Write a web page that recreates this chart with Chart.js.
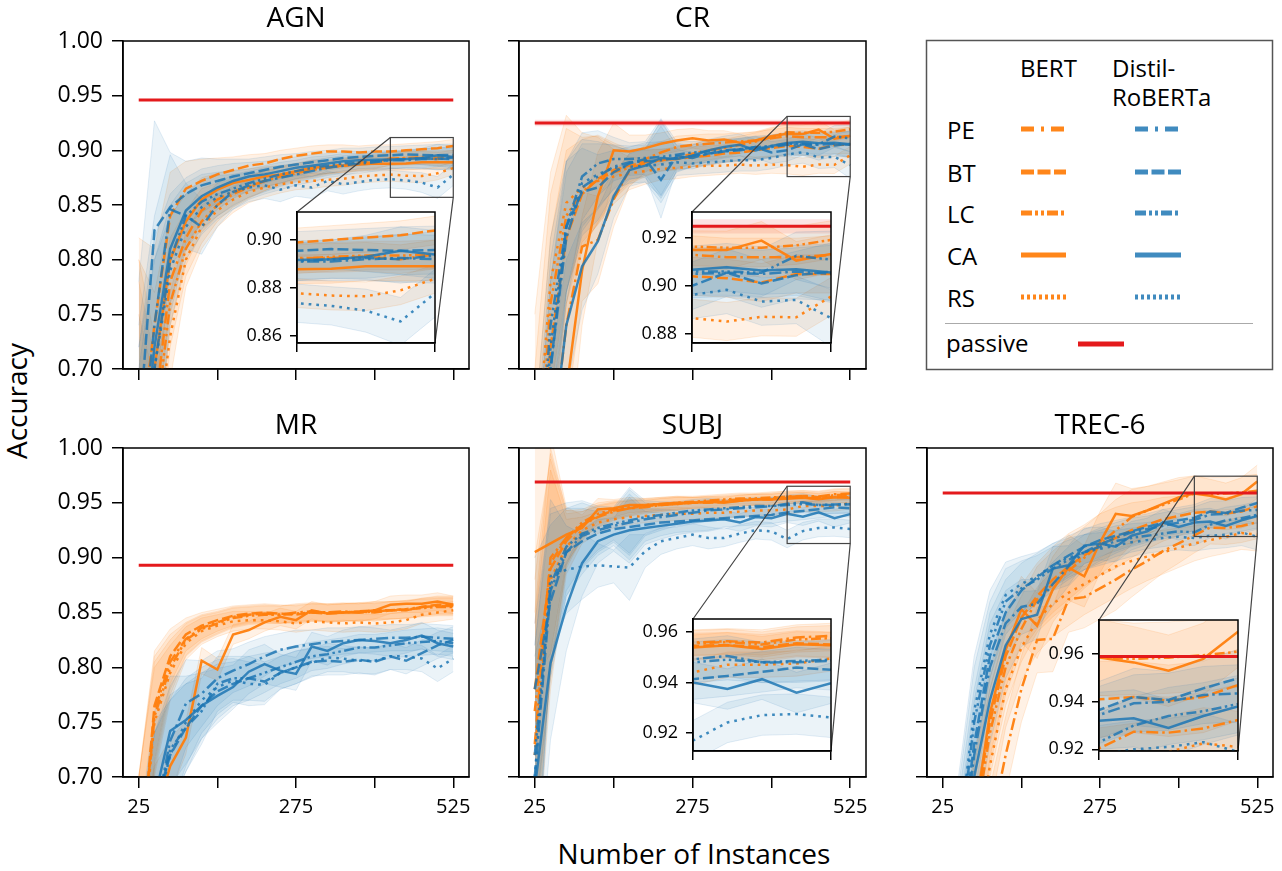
<!DOCTYPE html>
<html>
<head>
<meta charset="utf-8">
<script src="https://cdn.jsdelivr.net/npm/chart.js@4.4.1/dist/chart.umd.min.js"></script>
<style>
  body { margin: 0; background: #fff; }
  #fig { position: relative; width: 1282px; height: 871px; overflow: hidden; font-family: 'Open Sans', sans-serif; }
  .pane { position: absolute; }
  .lbl { position: absolute; font-size: 28px; line-height: 1; white-space: nowrap; color: #000; }
</style>
</head>
<body>
<div id="fig"></div>
<script>
// ---- data: accuracy vs. number of labelled instances ----
const instances = [25, 50, 75, 100, 125, 150, 175, 200, 225, 250, 275, 300, 325, 350, 375, 400, 425, 450, 475, 500, 525];
const strategies = ['PE', 'BT', 'LC', 'CA', 'RS'];
const panelTitles = ['AGN', 'CR', 'MR', 'SUBJ', 'TREC-6'];
const passive = [0.946, 0.925, 0.893, 0.969, 0.959];
const passiveSd = [0, 0.003, 0, 0, 0];

const agnBert = {
  PE: [0.60, 0.66, 0.78, 0.82, 0.845, 0.855, 0.862, 0.867, 0.872, 0.876, 0.879, 0.882, 0.884, 0.886, 0.888, 0.889, 0.8925, 0.8925, 0.893, 0.892, 0.894],
  BT: [0.62, 0.74, 0.84, 0.865, 0.872, 0.878, 0.882, 0.886, 0.888, 0.892, 0.895, 0.897, 0.899, 0.899, 0.898, 0.899, 0.899, 0.900, 0.901, 0.902, 0.904],
  LC: [0.58, 0.64, 0.76, 0.81, 0.835, 0.85, 0.86, 0.866, 0.872, 0.877, 0.88, 0.883, 0.885, 0.887, 0.889, 0.89, 0.892, 0.893, 0.8935, 0.8935, 0.894],
  CA: [0.60, 0.70, 0.80, 0.835, 0.855, 0.864, 0.87, 0.873, 0.876, 0.878, 0.881, 0.884, 0.885, 0.886, 0.887, 0.888, 0.8878, 0.888, 0.889, 0.889, 0.889],
  RS: [0.55, 0.62, 0.73, 0.80, 0.83, 0.845, 0.855, 0.862, 0.866, 0.869, 0.871, 0.872, 0.873, 0.874, 0.876, 0.877, 0.8778, 0.8768, 0.8765, 0.879, 0.8838]
};
const agnDistil = {
  PE: [0.60, 0.74, 0.846, 0.84, 0.83, 0.85, 0.862, 0.868, 0.872, 0.875, 0.878, 0.881, 0.884, 0.886, 0.888, 0.889, 0.891, 0.891, 0.892, 0.8925, 0.892],
  BT: [0.64, 0.827, 0.848, 0.86, 0.868, 0.872, 0.876, 0.879, 0.882, 0.885, 0.887, 0.889, 0.891, 0.893, 0.894, 0.895, 0.8955, 0.8962, 0.8958, 0.8955, 0.8958],
  LC: [0.58, 0.70, 0.80, 0.84, 0.853, 0.86, 0.865, 0.87, 0.874, 0.878, 0.881, 0.884, 0.886, 0.888, 0.889, 0.89, 0.891, 0.892, 0.8925, 0.892, 0.8935],
  CA: [0.58, 0.72, 0.81, 0.845, 0.858, 0.866, 0.872, 0.876, 0.878, 0.881, 0.884, 0.886, 0.888, 0.89, 0.891, 0.8915, 0.8917, 0.892, 0.893, 0.8955, 0.894],
  RS: [0.56, 0.70, 0.79, 0.83, 0.848, 0.857, 0.862, 0.866, 0.868, 0.864, 0.868, 0.866, 0.872, 0.869, 0.871, 0.873, 0.8736, 0.8725, 0.8705, 0.866, 0.8778]
};
const agnBertSd = [0.2, 0.07, 0.04, 0.025, 0.02, 0.015, 0.012, 0.01, 0.009, 0.008, 0.007, 0.007, 0.006, 0.006, 0.006, 0.006, 0.006, 0.006, 0.006, 0.006, 0.006];
const agnDistilSd = [0.14, 0.1, 0.05, 0.03, 0.025, 0.02, 0.016, 0.013, 0.012, 0.011, 0.01, 0.01, 0.009, 0.009, 0.008, 0.008, 0.008, 0.008, 0.009, 0.01, 0.01];

const crBert = {
  PE: [0.50, 0.62, 0.74, 0.812, 0.818, 0.855, 0.882, 0.892, 0.898, 0.903, 0.905, 0.906, 0.907, 0.908, 0.909, 0.911, 0.913, 0.912, 0.912, 0.912, 0.913],
  BT: [0.50, 0.72, 0.82, 0.86, 0.874, 0.882, 0.886, 0.889, 0.891, 0.892, 0.894, 0.895, 0.897, 0.898, 0.900, 0.902, 0.904, 0.9032, 0.9014, 0.905, 0.905],
  LC: [0.55, 0.76, 0.84, 0.862, 0.873, 0.88, 0.884, 0.888, 0.891, 0.893, 0.897, 0.900, 0.902, 0.905, 0.908, 0.912, 0.9165, 0.916, 0.916, 0.917, 0.9193],
  CA: [0.45, 0.55, 0.68, 0.79, 0.858, 0.900, 0.899, 0.902, 0.906, 0.909, 0.911, 0.909, 0.910, 0.907, 0.909, 0.913, 0.9151, 0.915, 0.919, 0.9106, 0.9134],
  RS: [0.60, 0.78, 0.852, 0.866, 0.872, 0.876, 0.879, 0.881, 0.883, 0.884, 0.885, 0.886, 0.886, 0.887, 0.886, 0.887, 0.8864, 0.885, 0.887, 0.8868, 0.8955]
};
const crDistil = {
  PE: [0.50, 0.70, 0.82, 0.866, 0.876, 0.885, 0.889, 0.890, 0.891, 0.893, 0.895, 0.897, 0.899, 0.900, 0.902, 0.903, 0.905, 0.9055, 0.905, 0.906, 0.905],
  BT: [0.50, 0.70, 0.83, 0.862, 0.866, 0.880, 0.888, 0.892, 0.873, 0.895, 0.893, 0.897, 0.899, 0.901, 0.903, 0.898, 0.900, 0.9055, 0.901, 0.9045, 0.906],
  LC: [0.55, 0.74, 0.83, 0.876, 0.888, 0.892, 0.892, 0.893, 0.894, 0.896, 0.898, 0.899, 0.900, 0.901, 0.903, 0.904, 0.906, 0.906, 0.9055, 0.9126, 0.911],
  CA: [0.50, 0.62, 0.74, 0.794, 0.817, 0.858, 0.882, 0.886, 0.893, 0.892, 0.895, 0.900, 0.903, 0.905, 0.900, 0.904, 0.9067, 0.9078, 0.9064, 0.907, 0.9056],
  RS: [0.52, 0.72, 0.83, 0.870, 0.878, 0.884, 0.885, 0.886, 0.887, 0.889, 0.888, 0.889, 0.890, 0.891, 0.891, 0.893, 0.8962, 0.8983, 0.8934, 0.8941, 0.8864]
};
const crBertSd = [0.15, 0.1, 0.08, 0.05, 0.04, 0.025, 0.015, 0.012, 0.01, 0.01, 0.009, 0.009, 0.008, 0.008, 0.008, 0.008, 0.008, 0.008, 0.008, 0.008, 0.008];
const crDistilSd = [0.1, 0.08, 0.06, 0.04, 0.03, 0.02, 0.015, 0.015, 0.035, 0.012, 0.01, 0.01, 0.01, 0.01, 0.01, 0.01, 0.01, 0.01, 0.01, 0.01, 0.012];

const mrBert = {
  PE: [0.60, 0.76, 0.805, 0.826, 0.836, 0.841, 0.846, 0.848, 0.849, 0.848, 0.850, 0.851, 0.850, 0.851, 0.850, 0.851, 0.852, 0.853, 0.855, 0.856, 0.856],
  BT: [0.60, 0.765, 0.81, 0.83, 0.838, 0.843, 0.847, 0.849, 0.850, 0.849, 0.848, 0.850, 0.849, 0.850, 0.851, 0.850, 0.852, 0.852, 0.855, 0.857, 0.857],
  LC: [0.60, 0.755, 0.80, 0.825, 0.835, 0.840, 0.845, 0.847, 0.848, 0.848, 0.849, 0.850, 0.850, 0.850, 0.851, 0.852, 0.852, 0.853, 0.854, 0.855, 0.855],
  CA: [0.55, 0.66, 0.71, 0.736, 0.806, 0.798, 0.830, 0.834, 0.841, 0.846, 0.843, 0.852, 0.849, 0.850, 0.850, 0.852, 0.857, 0.858, 0.858, 0.860, 0.857],
  RS: [0.60, 0.75, 0.795, 0.822, 0.833, 0.838, 0.842, 0.843, 0.843, 0.842, 0.840, 0.842, 0.841, 0.840, 0.841, 0.840, 0.841, 0.843, 0.848, 0.850, 0.852]
};
const mrDistil = {
  PE: [0.55, 0.66, 0.733, 0.767, 0.776, 0.790, 0.797, 0.803, 0.810, 0.816, 0.819, 0.821, 0.823, 0.824, 0.825, 0.826, 0.827, 0.827, 0.828, 0.827, 0.826],
  BT: [0.55, 0.67, 0.72, 0.745, 0.765, 0.778, 0.785, 0.79, 0.787, 0.795, 0.80, 0.805, 0.806, 0.805, 0.807, 0.805, 0.810, 0.806, 0.813, 0.820, 0.825],
  LC: [0.55, 0.66, 0.725, 0.745, 0.76, 0.785, 0.79, 0.79, 0.795, 0.80, 0.805, 0.81, 0.812, 0.815, 0.818, 0.818, 0.820, 0.822, 0.823, 0.824, 0.822],
  CA: [0.55, 0.68, 0.742, 0.752, 0.765, 0.774, 0.782, 0.796, 0.803, 0.797, 0.794, 0.819, 0.815, 0.822, 0.825, 0.824, 0.822, 0.825, 0.829, 0.822, 0.819],
  RS: [0.55, 0.66, 0.72, 0.75, 0.77, 0.782, 0.788, 0.785, 0.784, 0.795, 0.80, 0.804, 0.809, 0.808, 0.806, 0.806, 0.81, 0.81, 0.808, 0.799, 0.808]
};
const mrBertSd = [0.1, 0.05, 0.025, 0.015, 0.012, 0.01, 0.009, 0.008, 0.008, 0.008, 0.008, 0.008, 0.008, 0.008, 0.008, 0.008, 0.008, 0.008, 0.008, 0.008, 0.008];
const mrDistilSd = [0.1, 0.08, 0.05, 0.04, 0.03, 0.025, 0.02, 0.02, 0.018, 0.015, 0.015, 0.013, 0.013, 0.012, 0.012, 0.012, 0.012, 0.012, 0.012, 0.012, 0.012];

const subjBert = {
  PE: [0.73, 0.90, 0.918, 0.93, 0.937, 0.942, 0.945, 0.946, 0.948, 0.949, 0.950, 0.951, 0.952, 0.953, 0.953, 0.954, 0.9558, 0.9563, 0.9558, 0.9578, 0.9584],
  BT: [0.78, 0.89, 0.915, 0.93, 0.938, 0.943, 0.945, 0.947, 0.948, 0.949, 0.950, 0.950, 0.951, 0.952, 0.953, 0.953, 0.9545, 0.9548, 0.954, 0.9555, 0.955],
  LC: [0.76, 0.895, 0.918, 0.932, 0.94, 0.944, 0.946, 0.948, 0.949, 0.950, 0.951, 0.952, 0.953, 0.954, 0.954, 0.955, 0.9555, 0.956, 0.955, 0.957, 0.9575],
  CA: [0.905, 0.913, 0.921, 0.927, 0.944, 0.945, 0.948, 0.948, 0.949, 0.950, 0.950, 0.951, 0.950, 0.952, 0.953, 0.953, 0.9538, 0.9547, 0.9532, 0.9551, 0.9547],
  RS: [0.72, 0.88, 0.91, 0.925, 0.932, 0.935, 0.937, 0.938, 0.939, 0.940, 0.940, 0.941, 0.941, 0.942, 0.943, 0.943, 0.944, 0.947, 0.947, 0.9475, 0.9495]
};
const subjDistil = {
  PE: [0.70, 0.87, 0.905, 0.92, 0.925, 0.929, 0.932, 0.935, 0.937, 0.939, 0.941, 0.943, 0.944, 0.945, 0.946, 0.947, 0.9492, 0.9505, 0.9479, 0.948, 0.9486],
  BT: [0.78, 0.86, 0.905, 0.915, 0.922, 0.926, 0.928, 0.930, 0.932, 0.933, 0.934, 0.935, 0.936, 0.937, 0.938, 0.939, 0.9413, 0.9426, 0.9442, 0.9459, 0.945],
  LC: [0.72, 0.875, 0.91, 0.922, 0.927, 0.931, 0.934, 0.937, 0.939, 0.941, 0.943, 0.944, 0.945, 0.946, 0.947, 0.947, 0.948, 0.949, 0.948, 0.9485, 0.949],
  CA: [0.69, 0.804, 0.855, 0.895, 0.915, 0.921, 0.925, 0.927, 0.929, 0.931, 0.933, 0.934, 0.935, 0.932, 0.937, 0.936, 0.940, 0.9374, 0.9413, 0.936, 0.9397],
  RS: [0.70, 0.883, 0.889, 0.892, 0.893, 0.892, 0.891, 0.906, 0.915, 0.918, 0.921, 0.918, 0.918, 0.922, 0.925, 0.924, 0.917, 0.9242, 0.9271, 0.9275, 0.9262]
};
const subjBertSd = [0.12, 0.1, 0.025, 0.012, 0.01, 0.008, 0.007, 0.006, 0.006, 0.006, 0.005, 0.005, 0.005, 0.005, 0.005, 0.005, 0.005, 0.005, 0.005, 0.005, 0.005];
const subjDistilSd = [0.12, 0.07, 0.04, 0.03, 0.02, 0.015, 0.03, 0.015, 0.012, 0.01, 0.01, 0.01, 0.008, 0.008, 0.008, 0.008, 0.008, 0.008, 0.008, 0.008, 0.008];

const trecBert = {
  PE: [0.40, 0.50, 0.58, 0.65, 0.72, 0.78, 0.825, 0.826, 0.862, 0.864, 0.872, 0.880, 0.889, 0.897, 0.906, 0.913, 0.9204, 0.9274, 0.927, 0.9288, 0.9323],
  BT: [0.40, 0.55, 0.66, 0.75, 0.81, 0.845, 0.865, 0.88, 0.892, 0.902, 0.912, 0.918, 0.925, 0.930, 0.935, 0.938, 0.941, 0.942, 0.9404, 0.942, 0.947],
  LC: [0.40, 0.55, 0.65, 0.74, 0.80, 0.835, 0.862, 0.876, 0.888, 0.900, 0.912, 0.925, 0.937, 0.943, 0.948, 0.953, 0.9585, 0.958, 0.9585, 0.9595, 0.961],
  CA: [0.40, 0.55, 0.66, 0.758, 0.816, 0.853, 0.838, 0.871, 0.891, 0.883, 0.914, 0.94, 0.938, 0.943, 0.949, 0.955, 0.9586, 0.9565, 0.953, 0.958, 0.9694],
  RS: [0.40, 0.52, 0.62, 0.71, 0.78, 0.818, 0.843, 0.858, 0.868, 0.876, 0.884, 0.892, 0.897, 0.901, 0.905, 0.909, 0.913, 0.916, 0.919, 0.9225, 0.921]
};
const trecDistil = {
  PE: [0.45, 0.60, 0.72, 0.80, 0.84, 0.855, 0.858, 0.876, 0.892, 0.905, 0.912, 0.918, 0.923, 0.926, 0.929, 0.932, 0.9344, 0.9393, 0.94, 0.9428, 0.9435],
  BT: [0.45, 0.62, 0.73, 0.81, 0.85, 0.87, 0.882, 0.893, 0.902, 0.91, 0.916, 0.92, 0.924, 0.928, 0.932, 0.934, 0.9365, 0.942, 0.9407, 0.9456, 0.9498],
  LC: [0.47, 0.63, 0.75, 0.82, 0.86, 0.872, 0.88, 0.89, 0.898, 0.905, 0.91, 0.915, 0.918, 0.92, 0.922, 0.924, 0.923, 0.93, 0.934, 0.936, 0.939],
  CA: [0.45, 0.60, 0.70, 0.77, 0.82, 0.844, 0.848, 0.89, 0.893, 0.911, 0.913, 0.91, 0.92, 0.924, 0.932, 0.928, 0.932, 0.933, 0.929, 0.934, 0.938],
  RS: [0.47, 0.64, 0.76, 0.83, 0.866, 0.876, 0.883, 0.893, 0.9, 0.905, 0.908, 0.911, 0.914, 0.916, 0.918, 0.919, 0.918, 0.920, 0.921, 0.923, 0.919]
};
const trecBertSd = [0.1, 0.08, 0.06, 0.04, 0.035, 0.03, 0.03, 0.03, 0.03, 0.028, 0.028, 0.028, 0.025, 0.022, 0.02, 0.018, 0.016, 0.015, 0.015, 0.015, 0.015];
const trecDistilSd = [0.08, 0.06, 0.05, 0.04, 0.03, 0.025, 0.022, 0.02, 0.018, 0.016, 0.015, 0.014, 0.013, 0.012, 0.012, 0.012, 0.012, 0.012, 0.012, 0.012, 0.012];

// axis ticks
const xTicks = [25, 150, 275, 400, 525];
const xTickLabels = [25, 275, 525];
const yTicks = [0.70, 0.75, 0.80, 0.85, 0.90, 0.95, 1.00];
const insetX = [425, 525];
const insetLimits = [[0.857, 0.9117], [0.876, 0.931], null, [0.9129, 0.9651], [0.9193, 0.9743]];
const insetTicks = [[0.86, 0.88, 0.90], [0.88, 0.90, 0.92], null, [0.92, 0.94, 0.96], [0.92, 0.94, 0.96]];

// ---- styling / layout ----
const bertColor = 'rgba(255,127,14,0.95)';
const distilColor = 'rgba(31,119,180,0.85)';
const bertFill = 'rgba(255,127,14,0.11)';
const distilFill = 'rgba(31,119,180,0.09)';
const bertEdge = 'rgba(255,127,14,0.14)';
const distilEdge = 'rgba(31,119,180,0.12)';
const passiveColor = '#e41a1c';
const dashes = { PE: [12, 4, 2.5, 4], BT: [11, 4], LC: [10, 3.5, 2.5, 3.5, 2.5, 3.5], CA: [], RS: [2.7, 5] };
const legendDashes = { PE: [13, 7, 3, 7], BT: [13, 3.5], LC: [11, 3, 3, 3, 3, 3], CA: [], RS: [3, 3] };

const panels = [
  { bert: agnBert, distil: agnDistil, bertSd: agnBertSd, distilSd: agnDistilSd },
  { bert: crBert, distil: crDistil, bertSd: crBertSd, distilSd: crDistilSd },
  { bert: mrBert, distil: mrDistil, bertSd: mrBertSd, distilSd: mrDistilSd },
  { bert: subjBert, distil: subjDistil, bertSd: subjBertSd, distilSd: subjDistilSd },
  { bert: trecBert, distil: trecDistil, bertSd: trecBertSd, distilSd: trecDistilSd }
];
const boxes = [
  { left: 123, top: 41, w: 346, h: 328, showX: false, showY: true, inset: { left: 297, top: 212, w: 138, h: 131 } },
  { left: 519, top: 41, w: 347, h: 328, showX: false, showY: false, inset: { left: 692, top: 212, w: 139, h: 131 } },
  { left: 123, top: 448, w: 346, h: 329, showX: true, showY: true, inset: null },
  { left: 519, top: 448, w: 347, h: 329, showX: true, showY: false, inset: { left: 693, top: 619, w: 138, h: 132 } },
  { left: 927, top: 448, w: 346, h: 329, showX: true, showY: false, inset: { left: 1099, top: 620, w: 139, h: 131 } }
];

Chart.defaults.font.family = "'Open Sans', sans-serif";
Chart.defaults.color = '#000';

const fig = document.getElementById('fig');

function pts(vals) {
  return instances.map((x, i) => ({ x: x, y: vals[i] }));
}

function buildDatasets(p) {
  const panel = panels[p];
  const ds = [];
  ds.push({ data: [{ x: 25, y: passive[p] }, { x: 525, y: passive[p] }], borderColor: passiveColor, borderWidth: 3, pointRadius: 0, order: 0 });
  const models = [
    [panel.distil, distilColor, distilFill, distilEdge, panel.distilSd],
    [panel.bert, bertColor, bertFill, bertEdge, panel.bertSd]
  ];
  models.forEach(([m, col]) => {
    strategies.forEach(s => {
      ds.push({ data: pts(m[s]), borderColor: col, borderDash: dashes[s], borderWidth: 2.5, pointRadius: 0, order: 1, borderCapStyle: 'butt' });
    });
  });
  models.forEach(([m, col, fill, edge, sd]) => {
    strategies.forEach(s => {
      const upper = m[s].map((v, i) => v + sd[i]);
      const lower = m[s].map((v, i) => v - sd[i]);
      ds.push({ data: pts(upper), borderColor: edge, borderWidth: 1, backgroundColor: fill, fill: '+1', pointRadius: 0, order: 2 });
      ds.push({ data: pts(lower), borderColor: edge, borderWidth: 1, fill: false, pointRadius: 0, order: 2 });
    });
  });
  if (passiveSd[p]) {
    const top = [{ x: 25, y: passive[p] + passiveSd[p] }, { x: 525, y: passive[p] + passiveSd[p] }];
    const bot = [{ x: 25, y: passive[p] - passiveSd[p] }, { x: 525, y: passive[p] - passiveSd[p] }];
    ds.push({ data: top, borderWidth: 0, backgroundColor: 'rgba(228,26,28,0.12)', fill: '+1', pointRadius: 0, order: 2 });
    ds.push({ data: bot, borderWidth: 0, fill: false, pointRadius: 0, order: 2 });
  }
  return ds;
}

const framePlugin = {
  id: 'frame',
  afterDatasetsDraw(chart) {
    const a = chart.chartArea, ctx = chart.ctx;
    ctx.save();
    ctx.strokeStyle = '#000';
    ctx.lineWidth = 1.5;
    ctx.strokeRect(a.left, a.top, a.right - a.left, a.bottom - a.top);
    ctx.restore();
  }
};

function addCanvas(left, top, w, h) {
  const div = document.createElement('div');
  div.className = 'pane';
  div.style.left = left + 'px';
  div.style.top = top + 'px';
  div.style.width = w + 'px';
  div.style.height = h + 'px';
  const cv = document.createElement('canvas');
  cv.width = w;
  cv.height = h;
  div.appendChild(cv);
  fig.appendChild(div);
  return cv;
}

// keep Chart.js from shrinking the plot area for edge tick labels
const noEdgePad = s => { s.paddingTop = 0; s.paddingBottom = 0; s.paddingLeft = 0; s.paddingRight = 0; };

// main panels
boxes.forEach((b, p) => {
  const cl = b.left - 70, ct = b.top - 41;
  const cv = addCanvas(cl, ct, b.w + 140, b.h + 81);
  const plugins = [framePlugin];
  if (b.inset) {
    const lim = insetLimits[p], ins = b.inset;
    plugins.push({
      id: 'insetMark',
      afterDraw(chart) {
        const xs = chart.scales.x, ys = chart.scales.y, ctx = chart.ctx;
        const x0 = xs.getPixelForValue(insetX[0]), x1 = xs.getPixelForValue(insetX[1]);
        const y0 = ys.getPixelForValue(lim[1]), y1 = ys.getPixelForValue(lim[0]);
        ctx.save();
        ctx.strokeStyle = '#444';
        ctx.lineWidth = 1.2;
        ctx.strokeRect(x0, y0, x1 - x0, y1 - y0);
        ctx.beginPath();
        ctx.moveTo(x0, y0);
        ctx.lineTo(ins.left - cl, ins.top - ct);
        ctx.moveTo(x1, y1);
        ctx.lineTo(ins.left + ins.w - cl, ins.top + ins.h - ct);
        ctx.stroke();
        ctx.restore();
      }
    });
  }
  new Chart(cv, {
    type: 'line',
    data: { datasets: buildDatasets(p) },
    plugins: plugins,
    options: {
      animation: false, responsive: false, devicePixelRatio: 1,
      layout: { padding: 0 },
      plugins: {
        legend: { display: false },
        tooltip: { enabled: false },
        title: { display: true, text: panelTitles[p], color: '#000', font: { size: 28, weight: 'normal', lineHeight: '26px' }, padding: { top: 6, bottom: 9 } }
      },
      scales: {
        x: {
          type: 'linear', min: 0, max: 550,
          afterBuildTicks: a => { a.ticks = xTicks.map(v => ({ value: v })); },
          afterFit: s => { s.height = 40; noEdgePad(s); },
          ticks: { display: b.showX, autoSkip: false, maxRotation: 0, padding: 7, font: { size: 20 }, color: '#000',
            callback: v => xTickLabels.includes(v) ? String(v) : '' },
          grid: { drawOnChartArea: false, tickLength: 11, color: '#000', lineWidth: 1.5 },
          border: { color: '#000', width: 1.5 }
        },
        y: {
          min: 0.70, max: 1.00,
          afterBuildTicks: a => { a.ticks = yTicks.map(v => ({ value: v })); },
          afterFit: s => { s.width = 70; noEdgePad(s); },
          ticks: { display: b.showY, autoSkip: false, padding: 9, font: { size: 23 }, color: '#000',
            callback: v => v.toFixed(2) },
          grid: { drawOnChartArea: false, tickLength: 11, color: '#000', lineWidth: 1.5 },
          border: { color: '#000', width: 1.5 }
        },
        // empty right-hand spacer so the title is centred over the plot
        spacer: {
          position: 'right', display: true,
          afterFit: s => { s.width = 70; noEdgePad(s); },
          ticks: { display: false },
          grid: { display: false, drawTicks: false },
          border: { display: false }
        }
      }
    }
  });
});

// zoomed insets
const whitePlot = {
  id: 'whitePlot',
  beforeDraw(chart) {
    const a = chart.chartArea, ctx = chart.ctx;
    ctx.save();
    ctx.fillStyle = '#fff';
    ctx.fillRect(a.left, a.top, a.right - a.left, a.bottom - a.top);
    ctx.restore();
  }
};
boxes.forEach((b, p) => {
  if (!b.inset) return;
  const ins = b.inset, lim = insetLimits[p];
  const cv = addCanvas(ins.left - 56, ins.top - 6, ins.w + 62, ins.h + 18);
  new Chart(cv, {
    type: 'line',
    data: { datasets: buildDatasets(p) },
    plugins: [whitePlot, framePlugin],
    options: {
      animation: false, responsive: false, devicePixelRatio: 1,
      layout: { padding: { left: 0, right: 6, top: 6, bottom: 0 } },
      plugins: { legend: { display: false }, tooltip: { enabled: false } },
      scales: {
        x: {
          type: 'linear', min: insetX[0], max: insetX[1],
          afterBuildTicks: a => { a.ticks = insetX.map(v => ({ value: v })); },
          afterFit: s => { s.height = 12; noEdgePad(s); },
          ticks: { display: false },
          grid: { drawOnChartArea: false, tickLength: 9, color: '#000', lineWidth: 1.5 },
          border: { color: '#000', width: 1.5 }
        },
        y: {
          min: lim[0], max: lim[1],
          afterBuildTicks: a => { a.ticks = insetTicks[p].map(v => ({ value: v })); },
          afterFit: s => { s.width = 56; noEdgePad(s); },
          ticks: { autoSkip: false, padding: 8, font: { size: 18 }, color: '#000', callback: v => v.toFixed(2) },
          grid: { drawOnChartArea: false, tickLength: 7, color: '#000', lineWidth: 1.5 },
          border: { color: '#000', width: 1.5 }
        }
      }
    }
  });
});

// shared axis labels
function addLabel(text, x, y, rotate) {
  const d = document.createElement('div');
  d.className = 'lbl';
  d.textContent = text;
  d.style.left = x + 'px';
  d.style.top = y + 'px';
  d.style.transform = 'translate(-50%,-50%)' + (rotate ? ' rotate(-90deg)' : '');
  fig.appendChild(d);
}
addLabel('Accuracy', 16, 401, true);
addLabel('Number of Instances', 694, 853, false);

// legend panel
const NS = 'http://www.w3.org/2000/svg';
const svg = document.createElementNS(NS, 'svg');
svg.setAttribute('width', 1282);
svg.setAttribute('height', 871);
svg.style.position = 'absolute';
svg.style.left = '0px';
svg.style.top = '0px';
svg.style.pointerEvents = 'none';
fig.appendChild(svg);
function el(tag, attrs, text) {
  const e = document.createElementNS(NS, tag);
  Object.keys(attrs).forEach(k => e.setAttribute(k, attrs[k]));
  if (text) e.textContent = text;
  svg.appendChild(e);
  return e;
}
const tf = { 'font-family': "'Open Sans', sans-serif", 'font-size': 24, fill: '#000' };
el('rect', { x: 926.5, y: 40.5, width: 346, height: 329, fill: '#fff', stroke: '#555', 'stroke-width': 1.5 });
el('text', Object.assign({ x: 1020, y: 77 }, tf), 'BERT');
el('text', Object.assign({ x: 1112, y: 77 }, tf), 'Distil-');
el('text', Object.assign({ x: 1112, y: 106 }, tf), 'RoBERTa');
const rowY = [129, 172, 213, 255, 297];
strategies.forEach((s, i) => {
  el('text', Object.assign({ x: 947, y: rowY[i] + 10 }, tf), s);
  const da = legendDashes[s].length ? legendDashes[s].join(' ') : 'none';
  el('line', { x1: 1021, x2: 1066, y1: rowY[i], y2: rowY[i], stroke: bertColor, 'stroke-width': 5, 'stroke-dasharray': da });
  el('line', { x1: 1135, x2: 1181, y1: rowY[i], y2: rowY[i], stroke: distilColor, 'stroke-width': 5, 'stroke-dasharray': da });
});
el('line', { x1: 945, x2: 1253, y1: 323.5, y2: 323.5, stroke: '#aaa', 'stroke-width': 1 });
el('text', Object.assign({ x: 946, y: 352 }, tf), 'passive');
el('line', { x1: 1078, x2: 1124, y1: 344, y2: 344, stroke: passiveColor, 'stroke-width': 5 });
</script>
</body>
</html>
